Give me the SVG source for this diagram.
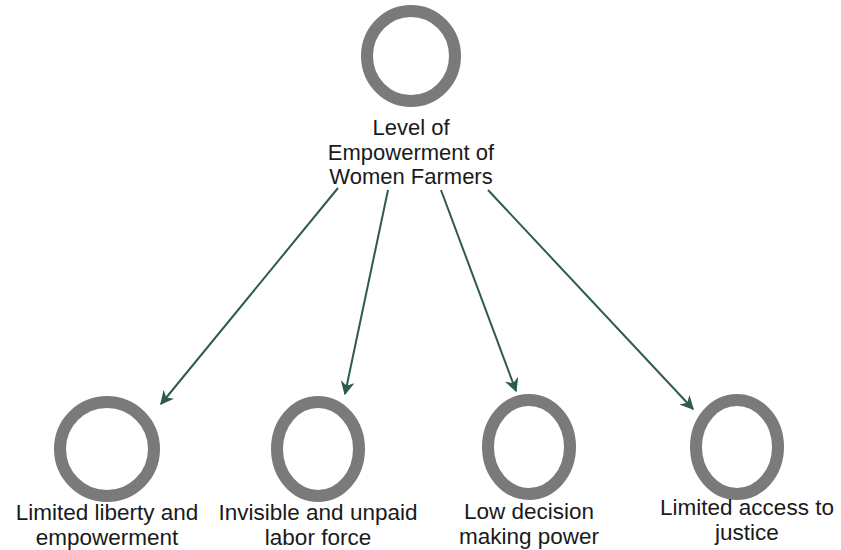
<svg xmlns="http://www.w3.org/2000/svg" width="841" height="550" viewBox="0 0 841 550">
<defs>
<style>
.ring{fill:none;stroke:#7a7a7a;stroke-width:12}
.lbl{font-family:"Liberation Sans",Arial,sans-serif;fill:#1a1a1a;text-anchor:middle}
.top{font-size:22px}
.bot{font-size:22.5px}
.edge{stroke:#2e5a50;stroke-width:2;fill:none;marker-end:url(#ah)}
</style>
<marker id="ah" viewBox="0 0 10 10" refX="9" refY="5" markerWidth="14" markerHeight="14" markerUnits="userSpaceOnUse" orient="auto">
<path d="M0,0 L10,5 L0,10 L3,5 Z" fill="#2e5a50"/>
</marker>
</defs>
<rect width="841" height="550" fill="#ffffff"/>
<g id="connectors">
<path class="edge" d="M338,188 L161,404"/>
<path class="edge" d="M388,190 L345,394"/>
<path class="edge" d="M441,190 L516,391"/>
<path class="edge" d="M488,190 L693,409"/>
</g>
<g id="n0">
<ellipse class="ring" cx="411" cy="56" rx="44" ry="45"/>
<text class="lbl top" x="411" y="135">Level of</text>
<text class="lbl top" x="411" y="160">Empowerment of</text>
<text class="lbl top" x="411" y="184">Women Farmers</text>
</g>
<g id="n1">
<ellipse class="ring" cx="107" cy="449" rx="47" ry="47"/>
<text class="lbl bot" x="107" y="520">Limited liberty and</text>
<text class="lbl bot" x="107" y="545">empowerment</text>
</g>
<g id="n2">
<ellipse class="ring" cx="318" cy="449" rx="41" ry="47"/>
<text class="lbl bot" x="318" y="520">Invisible and unpaid</text>
<text class="lbl bot" x="318" y="545">labor force</text>
</g>
<g id="n3">
<ellipse class="ring" cx="529" cy="447" rx="41" ry="47"/>
<text class="lbl bot" x="529" y="519">Low decision</text>
<text class="lbl bot" x="529" y="544">making power</text>
</g>
<g id="n4">
<ellipse class="ring" cx="737" cy="447" rx="41" ry="47"/>
<text class="lbl bot" x="747" y="515">Limited access to</text>
<text class="lbl bot" x="747" y="540">justice</text>
</g>
</svg>
